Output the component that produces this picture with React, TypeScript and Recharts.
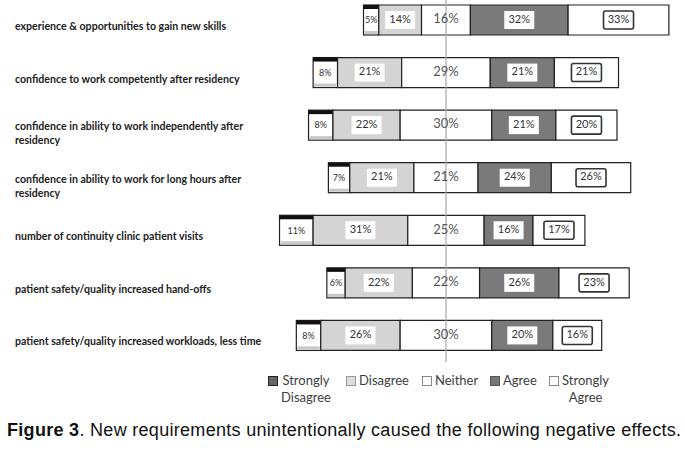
import React from "react";
import { BarChart, Bar, XAxis, YAxis, ReferenceLine, LabelList } from "recharts";

// survey items, "|" marks a manual line break
const items = [
  "experience & opportunities to gain new skills",
  "confidence to work competently after residency",
  "confidence in ability to work independently after|residency",
  "confidence in ability to work for long hours after|residency",
  "number of continuity clinic patient visits",
  "patient safety/quality increased hand-offs",
  "patient safety/quality increased workloads, less  time",
];

const stronglyDisagree = [5, 8, 8, 7, 11, 6, 8];
const disagree = [14, 21, 22, 21, 31, 22, 26];
const neither = [16, 29, 30, 21, 25, 22, 30];
const agree = [32, 21, 21, 24, 16, 26, 20];
const stronglyAgree = [33, 21, 20, 26, 17, 23, 16];

const legendNames = ["Strongly Disagree", "Disagree", "Neither", "Agree", "Strongly Agree"];

// the middle of "Neither" sits on this value
const CENTER = 55;

const data = items.map((item, i) => ({
  item,
  pad: CENTER - stronglyDisagree[i] - disagree[i] - neither[i] / 2,
  sd: stronglyDisagree[i],
  dis: disagree[i],
  nei: neither[i],
  agr: agree[i],
  sa: stronglyAgree[i],
}));

const FONT = "Lato, 'Open Sans', sans-serif";

const ItemTick = (props: any) => {
  const { y, payload } = props;
  const lines = String(payload.value).split("|");
  const startY = lines.length > 1 ? y + 2 : y + 7;
  return (
    <text x={15} y={startY} fontSize={10.6} fontFamily={FONT} fontWeight={700} fill="#222">
      {lines.map((l, k) => (
        <tspan key={k} x={15} dy={k === 0 ? 0 : 14} dominantBaseline="middle">
          {l}
        </tspan>
      ))}
    </text>
  );
};

const SdShape = (props: any) => {
  const { x, y, width, height } = props;
  return (
    <g>
      <rect x={x} y={y} width={width} height={height} fill="#fff" stroke="#222" strokeWidth={1.2} />
      <rect x={x} y={y} width={width} height={4} fill="#111" />
      <rect x={x + 1} y={y + height - 4} width={Math.max(width - 2, 0)} height={3} fill="#c8c8c8" />
    </g>
  );
};

const makeLabel = (kind: string) => (props: any) => {
  const { x, y, width, height, value } = props;
  const cx = x + width / 2;
  const cy = y + height / 2;
  const txt = `${value}%`;
  if (kind === "sd") {
    return (
      <text x={cx} y={cy + 1} textAnchor="middle" dominantBaseline="middle" fontSize={9} fontFamily={FONT} fill="#333">
        {txt}
      </text>
    );
  }
  if (kind === "nei") {
    return (
      <text x={cx} y={cy} textAnchor="middle" dominantBaseline="middle" fontSize={13} fontFamily={FONT} fill="#555">
        {txt}
      </text>
    );
  }
  const boxed = kind === "sa";
  return (
    <g>
      <rect
        x={cx - 15}
        y={cy - 9}
        width={30}
        height={18}
        rx={boxed ? 2 : 0}
        fill="#fff"
        stroke={boxed ? "#333" : "none"}
        strokeWidth={1.6}
      />
      <text x={cx} y={cy} textAnchor="middle" dominantBaseline="middle" fontSize={11} fontFamily={FONT} fill="#333">
        {txt}
      </text>
    </g>
  );
};

const legendIcons = [
  { fill: "#666", stroke: "#222" },
  { fill: "#ddd", stroke: "#999" },
  { fill: "#fff", stroke: "#888" },
  { fill: "#777", stroke: "#555" },
  { fill: "#fff", stroke: "#888" },
];
const legendWidths = [78, 76, 68, 59, 80];

const App: React.FC = () => {
  return (
    <div style={{ position: "absolute", left: 0, top: 0, width: 685, height: 454, background: "#fff", overflow: "hidden" }}>
      <div style={{ position: "absolute", left: 0, top: -6 }}>
        <BarChart
          width={685}
          height={368}
          data={data}
          layout="vertical"
          margin={{ top: 0, right: 10, left: 0, bottom: 0 }}
          barSize={30}
        >
          <XAxis type="number" domain={[0, 130]} hide />
          <YAxis
            type="category"
            dataKey="item"
            width={278}
            axisLine={false}
            tickLine={false}
            tick={<ItemTick />}
            interval={0}
          />
          <Bar dataKey="pad" stackId="a" fill="transparent" isAnimationActive={false} />
          <Bar dataKey="sd" stackId="a" shape={<SdShape />} isAnimationActive={false}>
            <LabelList dataKey="sd" content={makeLabel("sd")} />
          </Bar>
          <Bar dataKey="dis" stackId="a" fill="#d4d4d4" stroke="#222" strokeWidth={1.2} isAnimationActive={false}>
            <LabelList dataKey="dis" content={makeLabel("dis")} />
          </Bar>
          <Bar dataKey="nei" stackId="a" fill="#fff" stroke="#222" strokeWidth={1.2} isAnimationActive={false}>
            <LabelList dataKey="nei" content={makeLabel("nei")} />
          </Bar>
          <Bar dataKey="agr" stackId="a" fill="#7a7a7a" stroke="#222" strokeWidth={1.2} isAnimationActive={false}>
            <LabelList dataKey="agr" content={makeLabel("agr")} />
          </Bar>
          <Bar dataKey="sa" stackId="a" fill="#fff" stroke="#222" strokeWidth={1.2} isAnimationActive={false}>
            <LabelList dataKey="sa" content={makeLabel("sa")} />
          </Bar>
          <ReferenceLine x={CENTER} stroke="#aaa" strokeWidth={1.2} />
        </BarChart>
      </div>

      <div
        style={{
          position: "absolute",
          left: 268,
          top: 372,
          display: "flex",
          fontFamily: FONT,
          fontSize: 13,
          color: "#404040",
          lineHeight: "17px",
        }}
      >
        {legendNames.map((name, i) => {
          const words = name.split(" ");
          return (
            <div key={name} style={{ width: legendWidths[i], display: "flex", alignItems: "flex-start" }}>
              <span
                style={{
                  display: "inline-block",
                  width: 8,
                  height: 8,
                  marginTop: 4,
                  marginRight: 3,
                  background: legendIcons[i].fill,
                  border: `1px solid ${legendIcons[i].stroke}`,
                }}
              />
              <span style={{ textAlign: "center" }}>
                {words.map((w, k) => (
                  <div key={k}>{w}</div>
                ))}
              </span>
            </div>
          );
        })}
      </div>

      <div
        style={{
          position: "absolute",
          left: 7,
          top: 420,
          fontFamily: "'Liberation Sans', Arial, sans-serif",
          fontSize: 18,
          letterSpacing: 0.3,
          color: "#111",
          whiteSpace: "nowrap",
        }}
      >
        <b style={{ fontWeight: 900 }}>Figure 3</b>. New requirements unintentionally caused the following negative effects.
      </div>
    </div>
  );
};

export default App;
